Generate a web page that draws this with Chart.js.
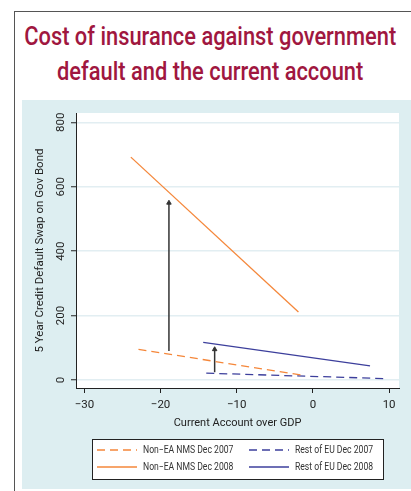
<!DOCTYPE html>
<html>
<head>
<meta charset="utf-8">
<script src="https://cdn.jsdelivr.net/npm/chart.js@4/dist/chart.umd.min.js"></script>
<style>
  html, body { margin: 0; padding: 0; background: #ffffff; }
  body { width: 411px; height: 491px; position: relative; overflow: hidden; }
  #frame {
    position: absolute; left: 14px; top: 11px; width: 420px; height: 500px;
    border-left: 1px solid #555; border-top: 1px solid #555;
  }
  #title {
    position: absolute; left: -100px; top: 19px; width: 620px; text-align: center;
    font-family: Roboto, "Liberation Sans", sans-serif; font-weight: 500;
    font-size: 26px; line-height: 35px; color: #a0173f;
  }
  #title span { display: inline-block; white-space: nowrap; transform-origin: 50% 50%; }
  #panel { position: absolute; left: 22px; top: 100px; width: 389px; height: 389px; background: #ddeef1; }
</style>
</head>
<body>
<div id="frame"></div>
<div id="title"><span id="t1">Cost of insurance against government</span><br><span id="t2">default and the current account</span></div>
<div id="panel"><canvas id="cdsChart" width="389" height="389"></canvas></div>
<script>
// values
const seriesNames = ['Non\u2212EA NMS Dec 2007', 'Rest of EU Dec 2007', 'Non\u2212EA NMS Dec 2008', 'Rest of EU Dec 2008']

const xNonEa2007 = [-22.9, -1.5]
const yNonEa2007 = [95, 15]
const xNonEa2008 = [-23.9, -1.9]
const yNonEa2008 = [692, 211]
const xRestEu2007 = [-14.0, 9.8]
const yRestEu2007 = [21, 4]
const xRestEu2008 = [-14.4, 7.5]
const yRestEu2008 = [117, 44]

// arrows from 2007 to 2008
const arrowX = [-18.9, -12.9]
const arrowFrom = [90, 24]
const arrowTo = [550, 95]

const xTicks = [-30, -20, -10, 0, 10]
const yTicks = [0, 200, 400, 600, 800]

const ORANGE = '#f5873a'
const BLUE = '#3c3f9c'
const FONT = 'Roboto, "Liberation Sans", sans-serif'

// condensed look for the heading, as in the original
const t1 = document.getElementById('t1')
const squeeze = 372 / t1.getBoundingClientRect().width
t1.style.transform = `scaleX(${squeeze})`
document.getElementById('t2').style.transform = `scaleX(${squeeze})`

const toPoints = (xs, ys) => xs.map((x, i) => ({ x: x, y: ys[i] }))
const minus = v => String(v).replace('-', '\u2212')

const lineSet = (label, xs, ys, color, dashed) => ({
    label: label,
    data: toPoints(xs, ys),
    showLine: true,
    borderColor: color,
    backgroundColor: color,
    borderWidth: 1.3,
    borderDash: dashed ? [8, 5] : [],
    pointRadius: 0,
    pointHoverRadius: 0
})

const datasets = [
    lineSet(seriesNames[0], xNonEa2007, yNonEa2007, ORANGE, true),
    lineSet(seriesNames[1], xRestEu2007, yRestEu2007, BLUE, true),
    lineSet(seriesNames[2], xNonEa2008, yNonEa2008, ORANGE, false),
    lineSet(seriesNames[3], xRestEu2008, yRestEu2008, BLUE, false)
]

arrowX.forEach((x, i) => {
    datasets.push({
        label: 'arrow',
        data: [{ x: x, y: arrowFrom[i] }, { x: x, y: arrowTo[i] }],
        showLine: true,
        borderColor: '#333',
        backgroundColor: '#333',
        borderWidth: 1.5,
        pointStyle: 'triangle',
        pointRadius: [0, 2.6],
        pointBorderWidth: 1
    })
})

// white plot region
const plotBackground = {
    id: 'plotBackground',
    beforeDraw(chart) {
        const { ctx, chartArea } = chart
        ctx.save()
        ctx.fillStyle = '#ffffff'
        ctx.fillRect(chartArea.left, chartArea.top, chartArea.right - chartArea.left, chartArea.bottom - chartArea.top)
        ctx.restore()
    }
}

// boxed two column legend below the axis
const boxLegend = {
    id: 'boxLegend',
    afterDraw(chart) {
        const { ctx } = chart
        ctx.save()
        ctx.fillStyle = '#ffffff'
        ctx.fillRect(70.5, 339.5, 291, 40)
        ctx.strokeStyle = '#222'
        ctx.lineWidth = 1
        ctx.strokeRect(70.5, 339.5, 291, 40)

        const cols = [75, 227]
        const rows = [350, 367]
        chart.data.datasets.slice(0, 4).forEach((ds, i) => {
            const x = cols[i % 2]
            const y = rows[Math.floor(i / 2)]
            ctx.beginPath()
            ctx.setLineDash(ds.borderDash)
            ctx.strokeStyle = ds.borderColor
            ctx.lineWidth = 1.3
            ctx.moveTo(x, y)
            ctx.lineTo(x + 40, y)
            ctx.stroke()
            ctx.setLineDash([])

            ctx.save()
            ctx.translate(x + 46, y)
            ctx.scale(0.86, 1)
            ctx.fillStyle = '#333'
            ctx.font = '10px ' + FONT
            ctx.textBaseline = 'middle'
            ctx.fillText(ds.label, 0, 0)
            ctx.restore()
        })
        ctx.restore()
    }
}

new Chart(document.getElementById('cdsChart'), {
    type: 'scatter',
    data: { datasets: datasets },
    plugins: [plotBackground, boxLegend],
    options: {
        responsive: false,
        animation: false,
        events: [],
        layout: { padding: { top: 13, right: 12, left: 0, bottom: 0 } },
        plugins: {
            legend: { display: false },
            tooltip: { enabled: false }
        },
        scales: {
            x: {
                type: 'linear',
                min: -31.1,
                max: 11.3,
                afterBuildTicks: scale => { scale.ticks = xTicks.map(v => ({ value: v })) },
                afterFit: scale => { scale.height = 101 },
                border: { color: '#222', width: 1 },
                grid: { drawOnChartArea: false, tickLength: 5, tickColor: '#222', tickWidth: 1 },
                ticks: {
                    padding: 5,
                    color: '#222',
                    font: { family: FONT, size: 11.5 },
                    callback: v => minus(v)
                },
                title: {
                    display: true,
                    text: 'Current Account over GDP',
                    color: '#222',
                    font: { family: FONT, size: 11 },
                    padding: { top: 0, bottom: 59 }
                }
            },
            y: {
                type: 'linear',
                min: -25,
                max: 829,
                afterBuildTicks: scale => { scale.ticks = yTicks.map(v => ({ value: v })) },
                afterFit: scale => { scale.width = 54 },
                border: { color: '#222', width: 1 },
                grid: { color: '#e2eef2', lineWidth: 1.5, tickLength: 5, tickColor: '#222', tickWidth: 1 },
                ticks: {
                    minRotation: 90,
                    maxRotation: 90,
                    crossAlign: 'center',
                    padding: 0,
                    color: '#222',
                    font: { family: FONT, size: 11.5 }
                },
                title: {
                    display: true,
                    text: '5 Year Credit Default Swap on Gov Bond',
                    color: '#222',
                    font: { family: FONT, size: 11.5 },
                    padding: { top: 11, bottom: 0 }
                }
            }
        }
    }
})
</script>
</body>
</html>
